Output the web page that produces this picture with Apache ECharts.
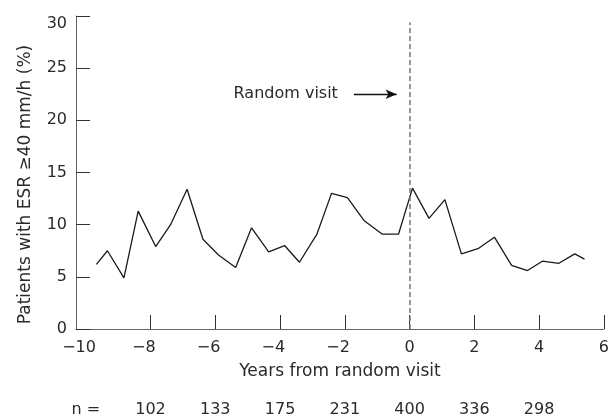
<!DOCTYPE html>
<html><head><meta charset="utf-8">
<script src="https://cdn.jsdelivr.net/npm/echarts@6/dist/echarts.min.js"></script>
<style>html,body{margin:0;padding:0;background:#fff}#c{width:612px;height:419px}</style>
</head><body><div id="c"></div>
<script>
// Years from random visit (x) and % patients with ESR >= 40 mm/h (y)
const years = [-9.67,-9.33,-8.82,-8.38,-7.84,-7.38,-6.87,-6.38,-5.90,-5.37,-4.88,-4.35,-3.86,-3.40,-2.86,-2.41,-1.92,-1.41,-0.85,-0.34,0.09,0.60,1.09,1.60,2.11,2.62,3.15,3.64,4.10,4.61,5.10,5.40];
const esrPct = [6.2,7.5,4.9,11.3,7.9,10.0,13.4,8.6,7.1,5.9,9.7,7.4,8.0,6.4,9.1,13.0,12.6,10.4,9.1,9.1,13.5,10.6,12.4,7.2,7.7,8.8,6.1,5.6,6.5,6.3,7.2,6.7];
const xTickLabels = [-10,-8,-6,-4,-2,0,2,4,6];
const xTickMarks = [-8,-6,-4,-2,0,2,4,6];
const nPositions = [-10,-8,-6,-4,-2,0,2,4];
const nLabels = ['n =','102','133','175','231','400','336','298'];
const randomVisitX = 0;
const arrowFrom = [-1.72, 22.5];
const arrowTo = [-0.40, 22.5];

const FONT = 'DejaVu Sans';
const FS = 16;
const FSN = 17;
const TXT = '#2a2a2a';
const AX = '#666';
const fmt = v => (v < 0 ? '\u2212' + Math.abs(v) + '{h|\u2212}' : String(v));

const chart = echarts.init(document.getElementById('c'), null, {renderer:'canvas'});
chart.setOption({
  animation: false,
  textStyle: {fontFamily: FONT},
  grid: {left: 76, right: 6, top: 16, bottom: 90, containLabel: false},
  xAxis: [{
    type: 'value', min: -10.3, max: 6,
    axisLine: {onZero: false, lineStyle: {color: AX, width: 1}},
    axisTick: {inside: true, length: 14, customValues: xTickMarks, lineStyle: {color: '#333', width: 1}},
    axisLabel: {customValues: xTickLabels, formatter: fmt, fontSize: FS, color: TXT, fontFamily: FONT, margin: 11,
      rich: {h: {color: 'rgba(0,0,0,0)', fontSize: FS, fontFamily: FONT}}},
    splitLine: {show: false},
    name: 'Years from random visit', nameLocation: 'middle', nameGap: 34,
    nameTextStyle: {fontSize: FSN, color: TXT, fontFamily: FONT}
  }, {
    type: 'value', min: -10.3, max: 6, position: 'bottom', offset: 65,
    axisLine: {show: false, onZero: false}, axisTick: {show: false}, splitLine: {show: false},
    axisLabel: {customValues: nPositions, formatter: v => nLabels[nPositions.indexOf(v)] || '',
      fontSize: FS, color: TXT, fontFamily: FONT, margin: 8}
  }],
  yAxis: {
    type: 'value', min: 0, max: 30, interval: 5,
    axisLine: {show: true, onZero: false, lineStyle: {color: AX, width: 1}},
    axisTick: {show: true, inside: true, length: 14, lineStyle: {color: '#333', width: 1}},
    axisLabel: {fontSize: FS, color: TXT, fontFamily: FONT, margin: 9,
      formatter: v => (v === 30 ? '{t|30}' : String(v)),
      rich: {t: {fontSize: FS, fontFamily: FONT, color: TXT, padding: [16, 0, 0, 0]}}},
    splitLine: {show: false},
    name: 'Patients with ESR \u226540 mm/h (%)', nameLocation: 'middle', nameGap: 42,
    nameTextStyle: {fontSize: FSN, color: TXT, fontFamily: FONT, padding: [0, 24, 0, 0]}
  },
  series: [{
    type: 'line', xAxisIndex: 0,
    data: years.map((x, i) => [x, esrPct[i]]),
    showSymbol: false, symbol: 'none',
    lineStyle: {color: '#1a1a1a', width: 1.3},
    markLine: {
      silent: true, animation: false,
      data: [
        [{coord: [randomVisitX, 0], symbol: 'none'}, {coord: [randomVisitX, 29.4], symbol: 'none',
          lineStyle: {type: [5, 3], color: '#777', width: 1.5}}],
        [{coord: arrowFrom, symbol: 'none'}, {coord: arrowTo, symbol: 'arrow', symbolSize: [7, 11],
          lineStyle: {type: 'solid', color: '#111', width: 1.3},
          label: {show: true, position: 'start', formatter: 'Random visit', fontSize: FS, color: TXT, fontFamily: FONT, distance: 16}}]
      ],
      label: {show: false},
      lineStyle: {type: [5, 3], color: '#777', width: 1.5}
    }
  }]
});
</script></body></html>
